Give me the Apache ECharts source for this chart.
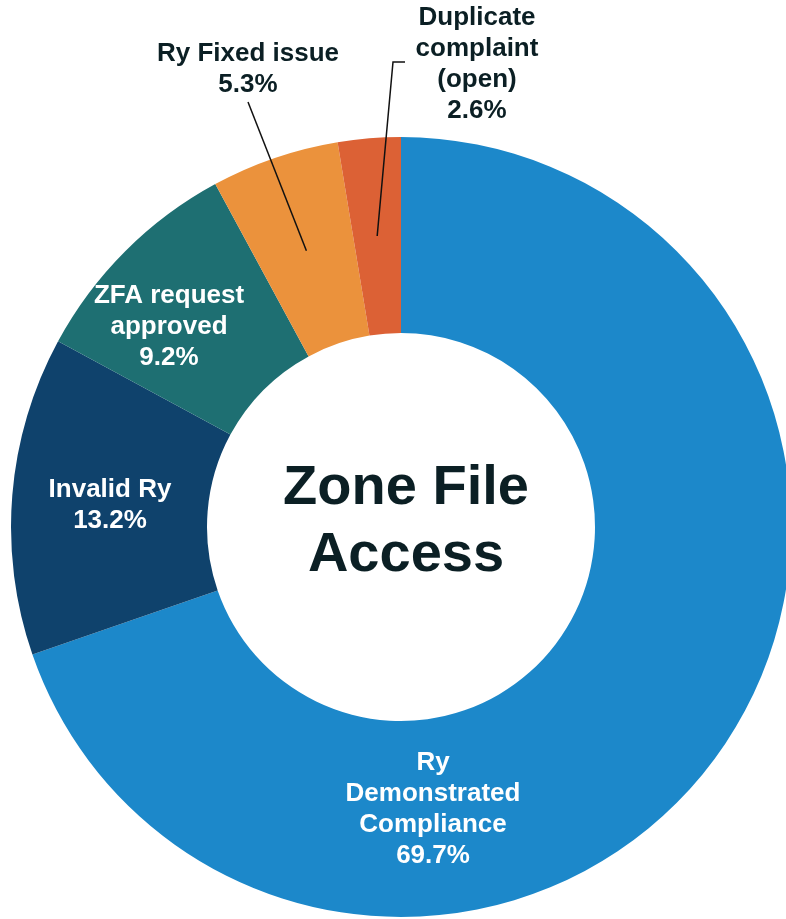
<!DOCTYPE html>
<html>
<head>
<meta charset="utf-8">
<title>Zone File Access</title>
<script src="https://cdn.jsdelivr.net/npm/echarts@6/dist/echarts.min.js"></script>
<style>
    html, body {
        margin: 0;
        padding: 0;
        background: #ffffff;
    }
    #chartPie {
        width: 786px;
        height: 919px;
    }
</style>
</head>
<body>
<div id="chartPie"></div>
<script>
// data
const categories = ['Ry\nDemonstrated\nCompliance', 'Invalid Ry', 'ZFA request\napproved', 'Ry Fixed issue', 'Duplicate\ncomplaint\n(open)'];
const shares = [69.7, 13.2, 9.2, 5.3, 2.6];
const sliceColors = ['#1C88CA', '#0F426C', '#1E6F72', '#EB923C', '#DC6135'];
// which labels sit outside the ring with a leader line
const outside = [false, false, false, true, true];

// label placement (layout only)
const labelSpots = [[433, 809], [110, 505], [169, 327], [248, 69], [477, 64]];
const leaderEnds = [null, null, null, [[248, 102]], [[393, 62], [405, 62]]];

const center = [401, 527];
const labelFont = {
    fontFamily: 'Liberation Sans, Arial, sans-serif',
    fontWeight: 'bold',
    fontSize: 26,
    lineHeight: 31
};

const chartPie = echarts.init(document.getElementById('chartPie'));

const ringData = categories.map((name, i) => ({
    name: name,
    value: shares[i],
    itemStyle: { color: sliceColors[i] },
    label: { show: !outside[i] }
}));

const guideData = categories.map((name, i) => ({
    name: name,
    value: shares[i],
    label: { show: outside[i] },
    labelLine: { show: outside[i] }
}));

chartPie.setOption({
    backgroundColor: '#ffffff',
    animation: false,
    graphic: [{
        type: 'text',
        x: 406,
        y: 522,
        style: {
            text: 'Zone File\nAccess',
            align: 'center',
            verticalAlign: 'middle',
            fill: '#0B1F24',
            fontFamily: 'Liberation Sans, Arial, sans-serif',
            fontWeight: 'bold',
            fontSize: 56,
            lineHeight: 67
        }
    }],
    series: [
        {
            name: 'Zone File Access',
            type: 'pie',
            z: 2,
            center: center,
            radius: [194, 390],
            startAngle: 90,
            clockwise: true,
            avoidLabelOverlap: false,
            silent: true,
            itemStyle: { borderWidth: 0 },
            label: Object.assign({
                position: 'inside',
                color: '#ffffff',
                formatter: '{b}\n{c}%'
            }, labelFont),
            labelLine: { show: false },
            labelLayout: function (params) {
                const p = labelSpots[params.dataIndex];
                return { x: p[0], y: p[1], align: 'center', verticalAlign: 'middle' };
            },
            data: ringData
        },
        {
            // invisible pie whose edge sits mid-ring, used only for the leader lines
            name: 'guides',
            type: 'pie',
            z: 5,
            center: center,
            radius: [0, 292],
            startAngle: 90,
            clockwise: true,
            avoidLabelOverlap: false,
            silent: true,
            itemStyle: { color: 'rgba(0,0,0,0)' },
            label: Object.assign({
                position: 'outside',
                color: '#0B1F24',
                formatter: '{b}\n{c}%'
            }, labelFont),
            labelLine: {
                length: 20,
                length2: 10,
                lineStyle: { color: '#111111', width: 1.5 }
            },
            labelLayout: function (params) {
                const i = params.dataIndex;
                const p = labelSpots[i];
                const out = { x: p[0], y: p[1], align: 'center', verticalAlign: 'middle' };
                if (leaderEnds[i] && params.labelLinePoints) {
                    out.labelLinePoints = [params.labelLinePoints[0]].concat(leaderEnds[i]);
                }
                return out;
            },
            data: guideData
        }
    ]
});
</script>
</body>
</html>
